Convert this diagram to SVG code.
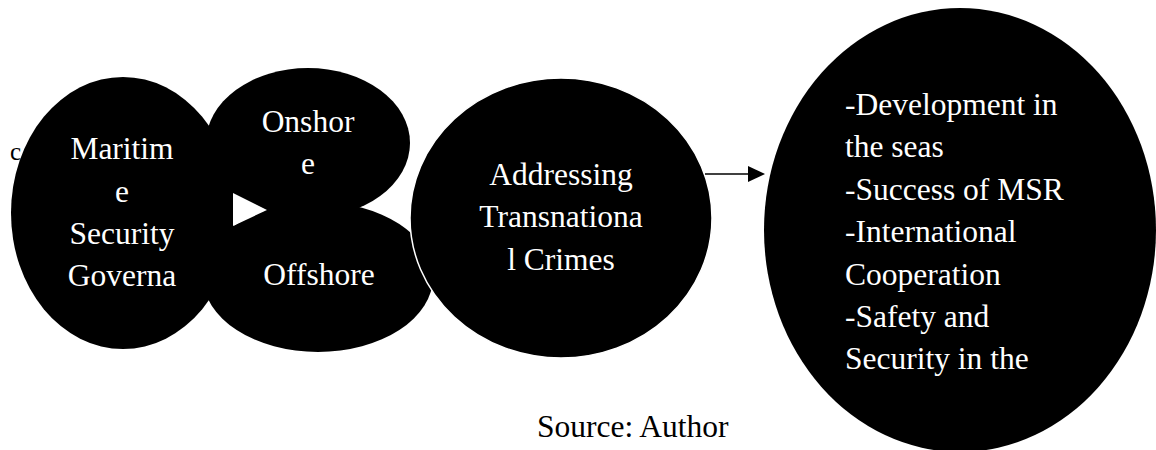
<svg xmlns="http://www.w3.org/2000/svg" width="1156" height="450" viewBox="0 0 1156 450">
<style>
.node{fill:#000}
.lbl{font-family:"Liberation Serif","Times New Roman",serif;font-size:31.5px;fill:#fff}
.mid{text-anchor:middle}
.plain{font-family:"Liberation Serif","Times New Roman",serif;fill:#000}
</style>
<rect width="1156" height="450" fill="#fff"/>
<text class="plain" x="10" y="160" font-size="25">c</text>
<g id="node-onshore">
<ellipse class="node" cx="308" cy="143" rx="102" ry="75"/>
</g>
<g id="node-offshore">
<ellipse class="node" cx="318" cy="277" rx="115" ry="75"/>
</g>
<g id="node-maritime">
<ellipse class="node" cx="123" cy="213" rx="112" ry="136"/>
</g>
<g id="node-addressing">
<ellipse class="node" cx="561" cy="218" rx="151" ry="140" stroke="#fff" stroke-width="1.5"/>
</g>
<g id="node-outcomes">
<ellipse class="node" cx="960" cy="230" rx="196" ry="222"/>
</g>
<g id="connectors">
<polygon points="233,193 267,210 233,226" fill="#fff"/>
<line x1="705" y1="174" x2="750" y2="174" stroke="#000" stroke-width="1.5"/>
<polygon points="748,166 765,174 748,182" fill="#000"/>
</g>
<g id="labels">
<text class="lbl mid" x="122" y="159">Maritim</text>
<text class="lbl mid" x="122" y="202">e</text>
<text class="lbl mid" x="122" y="244">Security</text>
<text class="lbl mid" x="122" y="286">Governa</text>
<text class="lbl mid" x="308" y="132">Onshor</text>
<text class="lbl mid" x="308" y="174">e</text>
<text class="lbl mid" x="319" y="285">Offshore</text>
<text class="lbl mid" x="561" y="185">Addressing</text>
<text class="lbl mid" x="561" y="227">Transnationa</text>
<text class="lbl mid" x="561" y="270">l Crimes</text>
<text class="lbl" x="845" y="115">-Development in</text>
<text class="lbl" x="845" y="157">the seas</text>
<text class="lbl" x="845" y="200">-Success of MSR</text>
<text class="lbl" x="845" y="242">-International</text>
<text class="lbl" x="845" y="285">Cooperation</text>
<text class="lbl" x="845" y="327">-Safety and</text>
<text class="lbl" x="845" y="369">Security in the</text>
</g>
<text class="plain" x="537" y="437" font-size="31.5">Source: Author</text>
</svg>
